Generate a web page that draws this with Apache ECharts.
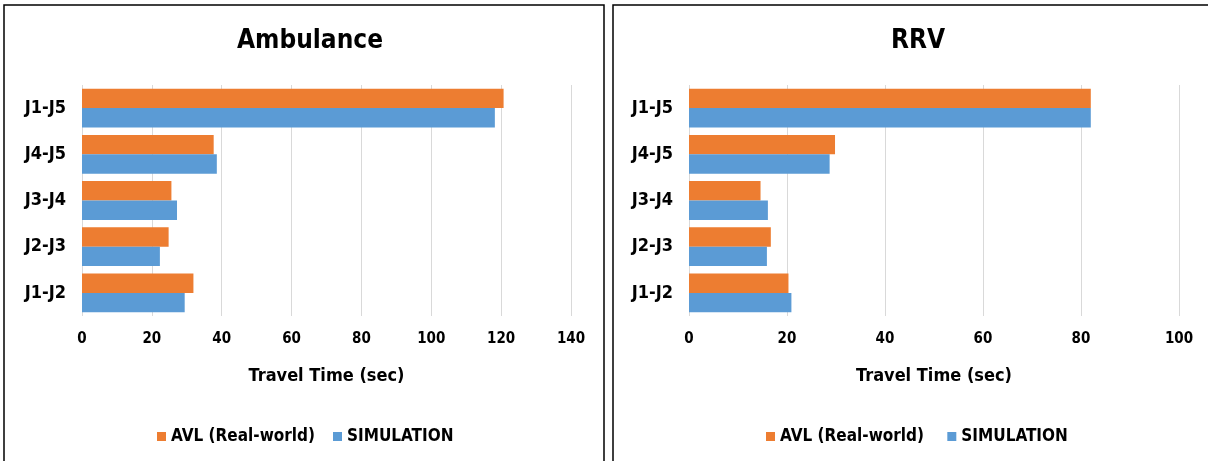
<!DOCTYPE html>
<html>
<head>
<meta charset="utf-8">
<script src="https://cdn.jsdelivr.net/npm/echarts@6/dist/echarts.min.js"></script>
<style>
  html, body { margin: 0; padding: 0; background: #fff; }
  #main { width: 1208px; height: 461px; }
</style>
</head>
<body>
<div id="main"></div>
<script>
// 数据
var categories = ["J1-J2", "J2-J3", "J3-J4", "J4-J5", "J1-J5"];
var ambulanceAvl = [31.9, 24.8, 25.6, 37.7, 120.7];
var ambulanceSim = [29.4, 22.3, 27.2, 38.6, 118.2];
var rrvAvl = [20.3, 16.7, 14.6, 29.8, 82.0];
var rrvSim = [20.9, 15.9, 16.1, 28.7, 82.0];

var FONT = "'Liberation Sans Narrow', 'DejaVu Sans Condensed', sans-serif";
var ORANGE = "#ED7D31";
var BLUE = "#5B9BD5";

function xAxisFor(gridIndex, max) {
  return {
    type: "value",
    gridIndex: gridIndex,
    min: 0,
    max: max,
    interval: 20,
    name: "Travel Time (sec)",
    nameLocation: "middle",
    nameGap: 51,
    nameTextStyle: { fontFamily: FONT, fontSize: 18, fontWeight: "bold", color: "#000" },
    axisLine: { show: false },
    axisTick: { show: false },
    axisLabel: { fontFamily: FONT, fontSize: 15, fontWeight: "bold", color: "#000", margin: 16 },
    splitLine: { lineStyle: { color: "#d9d9d9", width: 1 } }
  };
}

function yAxisFor(gridIndex) {
  return {
    type: "category",
    gridIndex: gridIndex,
    data: categories,
    axisLine: { show: false },
    axisTick: { show: false },
    axisLabel: { fontFamily: FONT, fontSize: 18, fontWeight: "bold", color: "#000", margin: 16 }
  };
}

// 第一个系列在每组的下方，所以先放 SIMULATION 的顺序要反过来
function barSeries(name, color, data, idx) {
  return {
    name: name,
    type: "bar",
    xAxisIndex: idx,
    yAxisIndex: idx,
    data: data,
    barGap: "0%",
    barCategoryGap: "16%",
    itemStyle: { color: color },
    silent: true
  };
}

var legendStyle = { fontFamily: FONT, fontSize: 17, fontWeight: "bold", color: "#000" };

var option = {
  animation: false,
  title: [
    { text: "Ambulance", left: 305, top: 23, textAlign: "center",
      textStyle: { fontFamily: FONT, fontSize: 26, fontWeight: "bold", color: "#000" } },
    { text: "RRV", left: 913, top: 23, textAlign: "center",
      textStyle: { fontFamily: FONT, fontSize: 26, fontWeight: "bold", color: "#000" } }
  ],
  legend: [
    { data: ["AVL (Real-world)", "SIMULATION"], left: 152, top: 423, icon: "rect",
      itemWidth: 9, itemHeight: 9, itemGap: 18, textStyle: legendStyle, selectedMode: false },
    { data: ["AVL (Real-world) ", "SIMULATION "], left: 761, top: 423, icon: "rect",
      itemWidth: 9, itemHeight: 9, itemGap: 18, textStyle: legendStyle, selectedMode: false }
  ],
  grid: [
    { left: 82, top: 85, width: 489, height: 231 },
    { left: 689, top: 85, width: 490, height: 231 }
  ],
  xAxis: [xAxisFor(0, 140), xAxisFor(1, 100)],
  yAxis: [yAxisFor(0), yAxisFor(1)],
  series: [
    barSeries("AVL (Real-world)", ORANGE, ambulanceAvl, 0),
    barSeries("SIMULATION", BLUE, ambulanceSim, 0),
    barSeries("AVL (Real-world) ", ORANGE, rrvAvl, 1),
    barSeries("SIMULATION ", BLUE, rrvSim, 1)
  ],
  graphic: [
    { type: "rect", shape: { x: 4, y: 5, width: 600, height: 470 },
      style: { fill: "none", stroke: "#000", lineWidth: 1.5 } },
    { type: "rect", shape: { x: 613, y: 5, width: 600, height: 470 },
      style: { fill: "none", stroke: "#000", lineWidth: 1.5 } }
  ]
};

var myChart = echarts.init(document.getElementById("main"));
myChart.setOption(option);
</script>
</body>
</html>
